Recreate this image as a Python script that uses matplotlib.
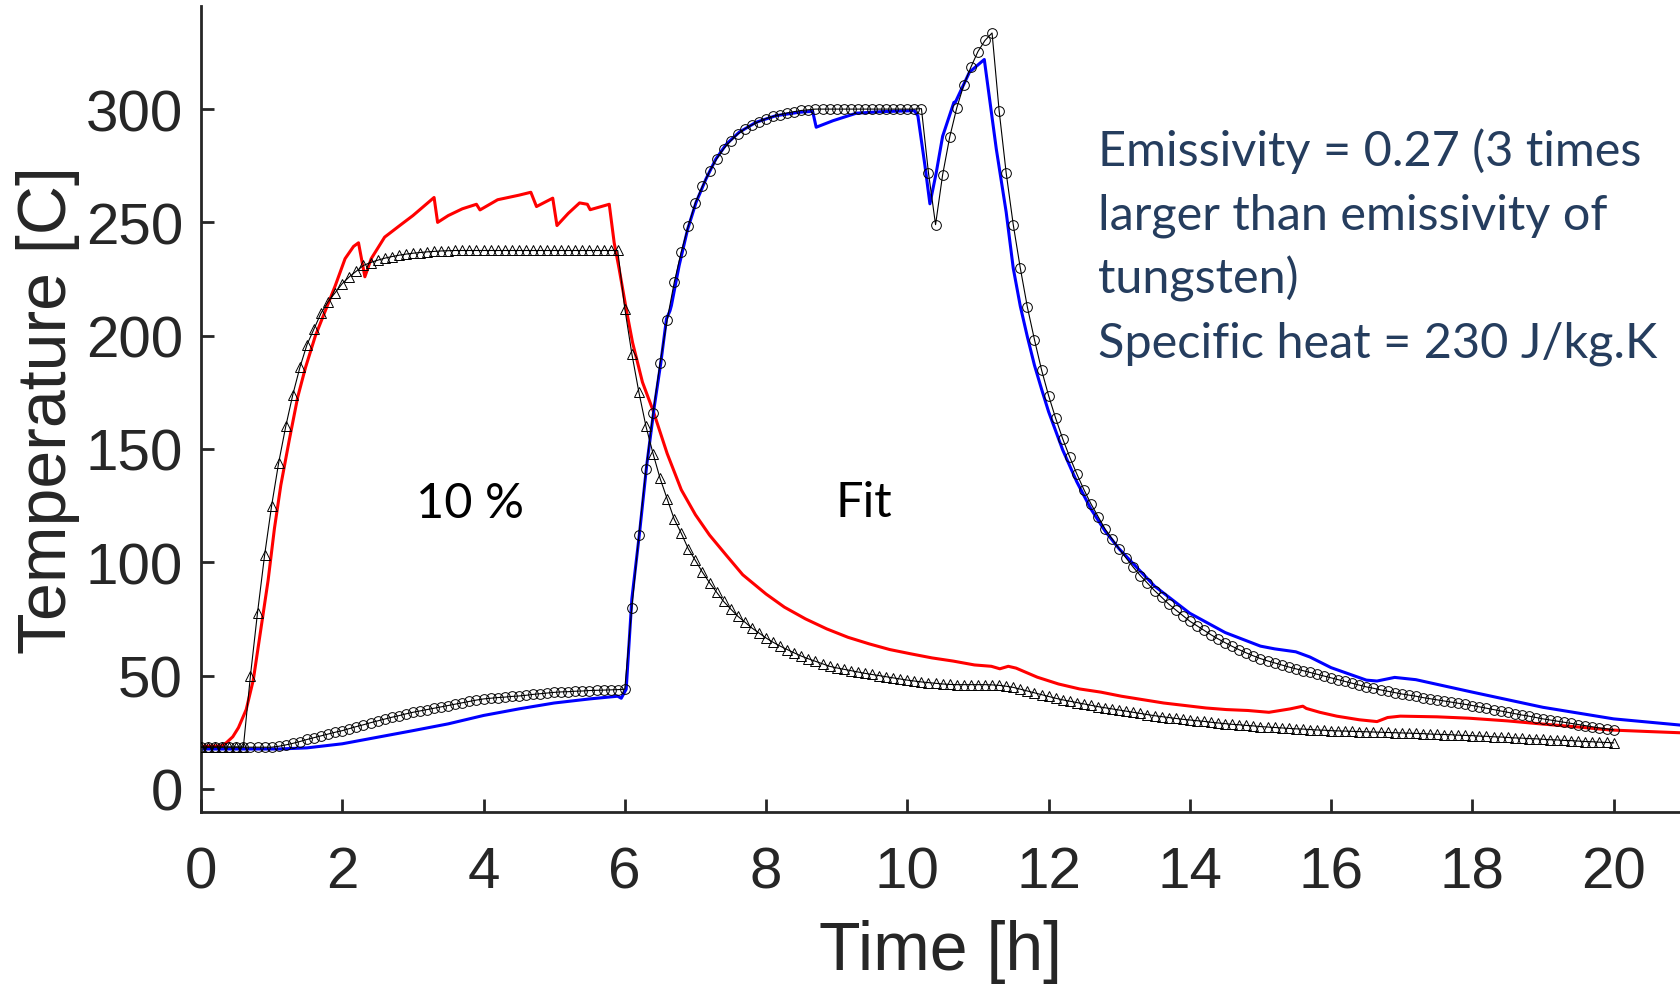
import numpy as np
import matplotlib
matplotlib.use("Agg")
import matplotlib.pyplot as plt

# simulated curves, one value every 0.1 h starting at t = 0
sim_10pct = [
    18.5, 18.5, 18.5, 18.5, 18.5, 18.5, 18.5, 50.0, 77.7, 103.0,
    125.0, 144.0, 160.0, 174.0, 186.0, 196.0, 203.0, 210.0, 215.0, 219.0,
    223.0, 226.0, 228.5, 231.0, 232.3, 233.3, 234.2, 234.9, 235.5, 236.0,
    236.4, 236.7, 237.0, 237.2, 237.4, 237.5, 237.6, 237.6, 237.6, 237.6,
    237.6, 237.6, 237.6, 237.6, 237.6, 237.6, 237.6, 237.6, 237.6, 237.6,
    237.6, 237.6, 237.6, 237.6, 237.6, 237.6, 237.6, 237.6, 237.6, 237.6,
    212.0, 192.0, 175.0, 160.0, 148.0, 137.0, 128.0, 119.0, 112.8, 105.9,
    100.8, 95.6, 91.0, 86.8, 82.7, 79.4, 76.2, 73.6, 71.0, 68.8,
    66.6, 64.7, 63.0, 61.5, 60.0, 58.6, 57.4, 56.3, 55.2, 54.1,
    53.4, 52.8, 52.2, 51.6, 51.0, 50.5, 50.0, 49.5, 49.0, 48.5,
    48.0, 47.6, 47.2, 46.9, 46.6, 46.3, 46.1, 46.0, 46.0, 46.0,
    46.0, 46.0, 45.9, 45.7, 45.3, 44.8, 44.0, 43.2, 42.4, 41.6,
    40.8, 40.0, 39.3, 38.7, 38.1, 37.5, 36.9, 36.3, 35.8, 35.3,
    34.8, 34.3, 33.8, 33.3, 32.8, 32.3, 31.9, 31.5, 31.1, 30.7,
    30.4, 30.1, 29.8, 29.4, 29.1, 28.8, 28.5, 28.3, 28.0, 27.8,
    27.5, 27.3, 27.1, 26.9, 26.7, 26.5, 26.4, 26.2, 26.0, 25.9,
    25.7, 25.6, 25.5, 25.4, 25.3, 25.2, 25.1, 25.0, 24.9, 24.8,
    24.7, 24.6, 24.5, 24.4, 24.2, 24.1, 24.0, 23.9, 23.7, 23.6,
    23.5, 23.3, 23.2, 23.0, 22.9, 22.7, 22.5, 22.4, 22.2, 22.1,
    21.9, 21.7, 21.6, 21.4, 21.3, 21.1, 20.9, 20.8, 20.6, 20.5,
    20.3,
]

sim_fit = [
    18.4, 18.4, 18.4, 18.4, 18.4, 18.4, 18.4, 18.4, 18.4, 18.4,
    18.4, 18.8, 19.4, 20.1, 20.9, 21.8, 22.6, 23.4, 24.2, 25.0,
    25.7, 26.6, 27.5, 28.3, 29.2, 30.0, 30.8, 31.6, 32.3, 33.1,
    33.8, 34.4, 35.0, 35.6, 36.2, 36.8, 37.4, 38.0, 38.6, 39.2,
    39.7, 40.0, 40.3, 40.5, 40.8, 41.0, 41.3, 41.7, 42.0, 42.3,
    42.6, 42.8, 42.9, 43.1, 43.2, 43.4, 43.5, 43.6, 43.7, 43.8,
    44.0, 80.0, 112.0, 141.0, 166.0, 188.0, 207.0, 223.5, 237.0, 248.5,
    258.7, 266.0, 272.5, 278.0, 282.5, 286.0, 289.0, 291.3, 293.0, 294.5,
    295.8, 296.8, 297.6, 298.3, 298.9, 299.4, 299.7, 300.0, 300.0, 300.0,
    300.0, 300.0, 300.0, 300.0, 300.0, 300.0, 300.0, 300.0, 300.0, 300.0,
    300.0, 300.0, 300.2, 271.8, 249.0, 271.0, 287.6, 300.5, 310.7, 318.5,
    325.4, 330.3, 333.6, 299.3, 271.8, 249.0, 229.8, 212.6, 198.3, 185.0,
    173.6, 163.6, 154.5, 146.4, 139.0, 132.1, 125.8, 120.2, 114.7, 110.3,
    105.9, 101.8, 97.8, 94.1, 90.8, 87.5, 84.6, 81.6, 79.0, 76.5,
    74.0, 72.0, 70.0, 68.0, 66.2, 64.5, 62.9, 61.4, 60.0, 58.7,
    57.5, 56.5, 55.6, 54.7, 53.8, 53.0, 52.2, 51.4, 50.6, 49.8,
    49.0, 48.2, 47.4, 46.6, 45.8, 45.0, 44.4, 43.7, 43.1, 42.5,
    41.9, 41.4, 40.9, 40.3, 39.8, 39.3, 38.8, 38.3, 37.8, 37.3,
    36.8, 36.2, 35.6, 35.0, 34.4, 33.8, 33.2, 32.6, 32.1, 31.5,
    30.9, 30.4, 29.9, 29.4, 28.9, 28.4, 27.9, 27.4, 26.9, 26.5,
    26.1,
]

# measured curves (time in h, temperature in C)
red_t = [0.0, 0.3, 0.36, 0.45, 0.53, 0.64, 0.74, 0.85, 0.95, 1.04,
         1.13, 1.25, 1.37, 1.48, 1.62, 1.76, 1.9, 2.04, 2.16, 2.23,
         2.32, 2.41, 2.6, 2.83, 3.0, 3.15, 3.3, 3.35, 3.5, 3.7,
         3.9, 3.95, 4.2, 4.5, 4.67, 4.75, 4.98, 5.04, 5.2, 5.36,
         5.47, 5.51, 5.78, 5.85, 5.92, 6.02, 6.11, 6.25, 6.4, 6.6,
         6.8, 7.0, 7.2, 7.44, 7.67, 8.0, 8.26, 8.56, 8.86, 9.16,
         9.46, 9.75, 10.05, 10.35, 10.65, 10.95, 11.19, 11.31, 11.43, 11.54,
         11.84, 12.14, 12.44, 12.74, 13.03, 13.33, 13.63, 13.93, 14.23, 14.52,
         14.82, 15.12, 15.42, 15.6, 15.65, 15.84, 16.08, 16.4, 16.65, 16.8,
         16.98, 17.5, 17.95, 18.5, 18.96, 19.5, 19.95, 20.5, 21.0]
red_T = [18.8, 19.0, 20.4, 23.0, 27.0, 35.0, 48.0, 71.0, 92.0, 115.0,
         134.0, 154.0, 173.0, 186.0, 200.0, 211.0, 222.0, 234.0, 239.4, 241.0,
         226.0, 234.0, 243.5, 249.0, 253.0, 257.0, 261.0, 250.0, 253.0, 256.0,
         258.0, 255.5, 260.0, 262.0, 263.3, 257.0, 260.7, 248.6, 254.0, 258.6,
         258.0, 255.6, 258.0, 241.0, 229.5, 211.8, 197.0, 179.5, 167.0, 148.0,
         132.0, 121.0, 112.0, 103.0, 94.5, 86.0, 80.2, 75.0, 70.6, 66.9,
         64.0, 61.5, 59.6, 57.8, 56.4, 54.7, 54.1, 53.0, 54.1, 53.3,
         49.3, 46.3, 44.1, 42.7, 40.9, 39.4, 37.9, 36.8, 35.7, 35.0,
         34.6, 33.8, 35.3, 36.5, 35.5, 33.8, 32.1, 30.5, 29.7, 31.5,
         32.1, 31.8, 31.2, 30.0, 28.7, 27.3, 26.0, 25.3, 24.7]

blue_t = [0.0, 1.1, 1.5, 2.0, 2.5, 3.0, 3.5, 4.0, 4.5, 5.0,
          5.5, 5.9, 5.95, 6.02, 6.1, 6.21, 6.31, 6.42, 6.51, 6.59,
          6.64, 6.66, 6.77, 6.89, 7.01, 7.15, 7.29, 7.44, 7.62, 7.86,
          8.14, 8.47, 8.66, 8.71, 8.95, 9.28, 9.65, 10.1, 10.15, 10.25,
          10.32, 10.41, 10.5, 10.66, 10.68, 10.88, 11.09, 11.26, 11.4, 11.5,
          11.6, 11.7, 11.8, 11.9, 12.0, 12.2, 12.4, 12.6, 12.8, 13.0,
          13.5, 14.0, 14.5, 15.0, 15.2, 15.5, 15.7, 16.0, 16.5, 16.65,
          16.9, 17.2, 18.0, 19.0, 20.0, 21.0]
blue_T = [17.6, 17.6, 18.1, 19.9, 22.8, 25.7, 28.7, 32.4, 35.3, 37.9,
          39.7, 40.9, 40.0, 44.0, 83.8, 113.3, 142.7, 169.2, 188.0, 207.4,
          211.0, 213.3, 231.0, 247.0, 258.9, 269.2, 278.0, 284.6, 289.8, 294.2,
          297.1, 298.6, 299.0, 292.0, 294.9, 298.2, 298.9, 299.3, 297.0, 275.0,
          258.2, 272.0, 288.0, 303.0, 303.0, 316.3, 321.9, 282.4, 254.5, 229.8,
          213.0, 199.5, 187.0, 176.5, 166.5, 149.6, 135.5, 123.5, 113.8, 105.9,
          89.5, 77.5, 69.0, 63.0, 61.8, 60.5, 58.2, 53.5, 48.0, 47.6,
          49.2, 48.2, 42.7, 36.0, 30.9, 28.0]

t_sim = np.round(np.arange(len(sim_fit)) * 0.1, 2)

xticks = list(range(0, 21, 2))
yticks = list(range(0, 301, 50))

note_lines = ["Emissivity = 0.27 (3 times",
              "larger than emissivity of",
              "tungsten)",
              "Specific heat = 230 J/kg.K"]

axis_color = "#262626"

fig = plt.figure(figsize=(16.8, 9.87), dpi=100)
ax = fig.add_axes([201 / 1680, 174 / 987, 1479 / 1680, 806 / 987])

# measured
ax.plot(red_t, red_T, color="#ff0000", lw=2.2, zorder=2)
ax.plot(blue_t, blue_T, color="#0000ff", lw=2.2, zorder=2)

# simulation
ax.plot(t_sim, sim_10pct, color="black", lw=0.8, marker="^", ms=7,
        mfc="none", mec="black", mew=0.7, zorder=3)
ax.plot(t_sim, sim_fit, color="black", lw=0.8, marker="o", ms=7,
        mfc="none", mec="black", mew=0.7, zorder=3)

ax.set_xlim(0, 20.94)
ax.set_ylim(-10.2, 345.5)
ax.set_xticks(xticks)
ax.set_yticks(yticks)

for side in ["top", "right"]:
    ax.spines[side].set_visible(False)
for side in ["left", "bottom"]:
    ax.spines[side].set_linewidth(2.0)
    ax.spines[side].set_color(axis_color)

ax.tick_params(direction="in", length=9.5, width=2.0, colors=axis_color,
               labelsize=42, labelfontfamily="Liberation Sans")
ax.tick_params(axis="y", pad=13)
ax.tick_params(axis="x", pad=24)

ax.set_xlabel("Time [h]", fontsize=49, family="Liberation Sans",
              color=axis_color, labelpad=14)
ax.set_ylabel("Temperature [C]", fontsize=49, family="Liberation Sans",
              color=axis_color, labelpad=4)

ax.text(3.04, 120, "10 %", fontsize=35, family="Lato", color="black",
        va="baseline")
ax.text(8.98, 120.5, "Fit", fontsize=35, family="Lato", color="black",
        va="baseline")

# annotation, one line per baseline
for i, line in enumerate(note_lines):
    base_px = 166 + i * 63.7
    fig.text(1098 / 1680, 1 - base_px / 987, line, fontsize=35,
             family="Lato", color="#253d5e", va="baseline", ha="left")

fig.savefig("out.png", dpi=100)
